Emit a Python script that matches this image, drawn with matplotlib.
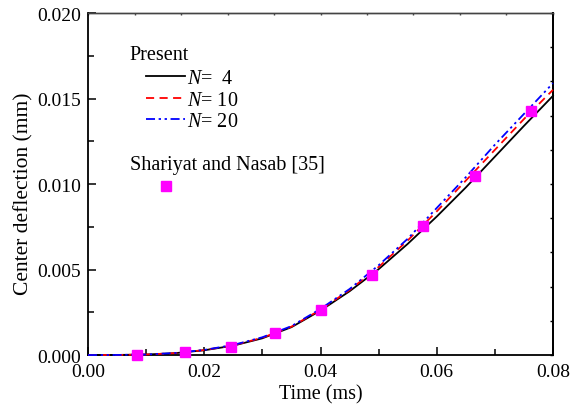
import numpy as np
import matplotlib.pyplot as plt
import matplotlib.transforms as mtransforms
from matplotlib.ticker import MultipleLocator, NullFormatter

#%% Data #####################################################################
t = [0.0, 0.005, 0.01, 0.015, 0.02, 0.025, 0.03, 0.035, 0.04, 0.045,
     0.05, 0.055, 0.06, 0.065, 0.07, 0.075, 0.08]
w_n4 = [0.0, 0.000005, 0.00003, 0.00011, 0.00028, 0.00055, 0.00098, 0.00163,
        0.0026, 0.00373, 0.00502, 0.0065, 0.0081, 0.0098, 0.0116, 0.0134,
        0.01516]
w_n10 = [0.0, 0.000005, 0.00003, 0.00011, 0.00029, 0.00057, 0.00101, 0.00166,
         0.00265, 0.0038, 0.00515, 0.0067, 0.0084, 0.0102, 0.0120, 0.0138,
         0.01551]
w_n20 = [0.0, 0.000005, 0.00003, 0.00012, 0.0003, 0.00059, 0.00104, 0.00169,
         0.0027, 0.00386, 0.00525, 0.0068, 0.0086, 0.0104, 0.0123, 0.0141,
         0.0159]
ref_t = [0.0085, 0.0166, 0.0246, 0.0322, 0.0400, 0.0489, 0.0577, 0.0665,
         0.0762]
ref_w = [0.0, 0.00016, 0.00045, 0.00127, 0.00263, 0.0047, 0.00753, 0.01049,
         0.01429]

#%% Style ####################################################################
plt.rcParams['font.family'] = ['Liberation Serif', 'DejaVu Serif']
plt.rcParams['font.size'] = 14.5
plt.rcParams['mathtext.fontset'] = 'custom'
plt.rcParams['mathtext.it'] = 'Liberation Serif:italic'
plt.rcParams['mathtext.rm'] = 'Liberation Serif'

fig = plt.figure(figsize=(5.83, 4.14), dpi=100)
ax = fig.add_axes([0.151, 0.140, 0.7975, 0.826])

#%% Plot #####################################################################
l4, = ax.plot(t, w_n4, color='black', lw=1.3, zorder=3, clip_on=False)
l10, = ax.plot(t, w_n10, color='red', lw=1.3, ls=(0, (4.5, 3)), zorder=4,
               clip_on=False)
l20, = ax.plot(t, w_n20, color='blue', lw=1.3,
               ls=(0, (5, 2, 1.3, 2, 1.3, 2)), zorder=5, clip_on=False)
sq, = ax.plot(ref_t, ref_w, ls='none', marker='s', ms=6.5, color='#ff00ff',
              mec='#ff00ff', zorder=6, clip_on=False)

ax.set_xlim(0, 0.08)
ax.set_ylim(0, 0.020)
ax.xaxis.set_major_locator(MultipleLocator(0.02))
ax.xaxis.set_minor_locator(MultipleLocator(0.01))
ax.yaxis.set_major_locator(MultipleLocator(0.005))
ax.yaxis.set_minor_locator(MultipleLocator(0.0025))
ax.xaxis.set_major_formatter(lambda v, p: f"{v:.2f}")
ax.yaxis.set_major_formatter(lambda v, p: f"{v:.3f}")
ax.tick_params(which='major', direction='in', length=6, width=1.1,
               top=False, right=False, labelsize=14)
ax.tick_params(axis='x', which='major', pad=6)
ax.tick_params(axis='y', which='major', pad=5)
ax.tick_params(which='minor', direction='in', length=4, width=1.1,
               top=False, right=False)
for s in ['left', 'bottom', 'right']:
    ax.spines[s].set_linewidth(1.3)
ax.spines['top'].set_linewidth(1.0)
ax.spines['top'].set_color('#444444')

ax.set_xlabel("Time (ms)", fontsize=14.5, labelpad=3)
ax.set_ylabel("Center deflection (mm)", fontsize=15.5)
ax.yaxis.set_label_coords(-0.118, 0.474)

# right and top axes (ticks only)
rax = ax.secondary_yaxis('right')
rax.yaxis.set_major_locator(MultipleLocator(0.002))
rax.yaxis.set_major_formatter(NullFormatter())
rax.tick_params(direction='in', length=2.5, width=1.0)
rax.spines['right'].set_linewidth(1.3)
tax = ax.secondary_xaxis('top')
tax.xaxis.set_major_locator(MultipleLocator(0.008))
tax.xaxis.set_major_formatter(NullFormatter())
tax.tick_params(direction='in', length=1.5, width=1.0, color='#444444')
tax.spines['top'].set_linewidth(1.0)
tax.spines['top'].set_color('#444444')

fig.canvas.draw()
# lift the 0.000 label clear of the 0.00 label, as in the original
first = ax.get_yticklabels()[0]
first.set_transform(first.get_transform() +
                    mtransforms.ScaledTranslation(0, 8 / 100, fig.dpi_scale_trans))

#%% Legend ###################################################################
ax.text(0.090, 0.880, "Present", transform=ax.transAxes, va='center',
        ha='left')
leg1 = ax.legend([l4, l10, l20],
                 ["$N$=  4", "$N$= 10", "$N$= 20"],
                 loc='upper left', bbox_to_anchor=(0.1247, 0.836),
                 frameon=False, borderpad=0, borderaxespad=0,
                 handlelength=1.95, handletextpad=0.1, labelspacing=0.12)
ax.add_artist(leg1)
ax.text(0.090, 0.556, "Shariyat and Nasab [35]", transform=ax.transAxes,
        va='center', ha='left')
ax.legend([sq], [""], loc='upper left', bbox_to_anchor=(0.146, 0.515),
          frameon=False, borderpad=0, borderaxespad=0, handlelength=1,
          handletextpad=0, numpoints=1)

fig.savefig("out.png", dpi=100)
